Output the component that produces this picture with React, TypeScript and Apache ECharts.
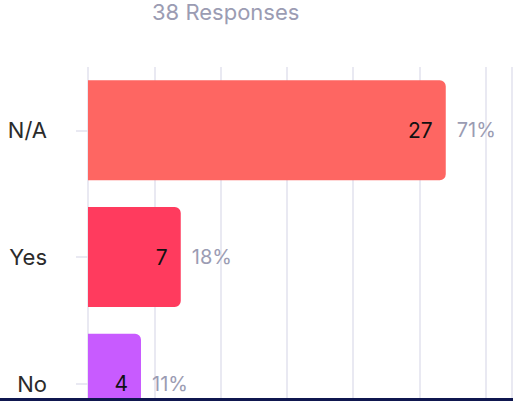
import React, { useEffect, useRef } from "react";
import * as echarts from "echarts";

const categories = ["N/A", "Yes", "No"];
const counts = [27, 7, 4];
const barColors = ["#fe6662", "#ff3b5e", "#c85bff"];
const totalResponses = 38;
const titleText = `${totalResponses} Responses`;

export default function App() {
  const ref = useRef<HTMLDivElement>(null);
  useEffect(() => {
    if (!ref.current) return;
    const chart = echarts.init(ref.current, undefined, { renderer: "svg" });
    const font = "Inter, 'Noto Sans', sans-serif";
    chart.setOption({
      animation: false,
      textStyle: { fontFamily: font },
      title: {
        text: titleText,
        left: 152,
        top: 1,
        padding: 0,
        textStyle: { fontSize: 22, fontWeight: "normal", color: "#9b9cb3", fontFamily: font },
      },
      grid: { left: 88, top: 67, width: 424, height: 380, containLabel: false },
      xAxis: {
        type: "value",
        min: 0,
        max: 32,
        interval: 5,
        axisLabel: { show: false },
        axisLine: { show: false },
        axisTick: { show: false },
        splitLine: { show: true, lineStyle: { color: "#e2e2ee", width: 1.5 } },
      },
      yAxis: {
        type: "category",
        data: categories,
        inverse: true,
        axisLine: { show: false },
        axisTick: { show: true, alignWithLabel: true, length: 12, lineStyle: { color: "#e2e2ee", width: 1.5 } },
        axisLabel: { margin: 41, fontSize: 22, color: "#2b2b2b", fontFamily: font },
      },
      series: [
        {
          type: "bar",
          data: counts.map((v, i) => ({ value: v, itemStyle: { color: barColors[i] } })),
          barWidth: "79%",
          itemStyle: { borderRadius: [0, 6, 6, 0] },
          label: {
            show: true,
            position: "insideRight",
            distance: 13,
            fontSize: 21,
            color: "#111111",
            fontFamily: font,
          },
          z: 2,
        },
        {
          type: "bar",
          data: counts,
          barWidth: "79%",
          barGap: "-100%",
          itemStyle: { color: "rgba(0,0,0,0)" },
          label: {
            show: true,
            position: "right",
            distance: 11,
            fontSize: 20,
            color: "#9b9cb3",
            fontFamily: font,
            formatter: (p: any) => `${Math.round((p.value / totalResponses) * 100)}%`,
          },
          silent: true,
          z: 3,
        },
      ],
    });
    return () => chart.dispose();
  }, []);
  return (
    <div
      style={{
        position: "fixed",
        left: 0,
        top: 0,
        width: 513,
        height: 401,
        overflow: "hidden",
        background: "#ffffff",
      }}
    >
      <div ref={ref} style={{ width: 513, height: 470 }} />
      <div
        style={{
          position: "absolute",
          left: 0,
          top: 398,
          width: 513,
          height: 3,
          background: "#0f174f",
        }}
      />
    </div>
  );
}
